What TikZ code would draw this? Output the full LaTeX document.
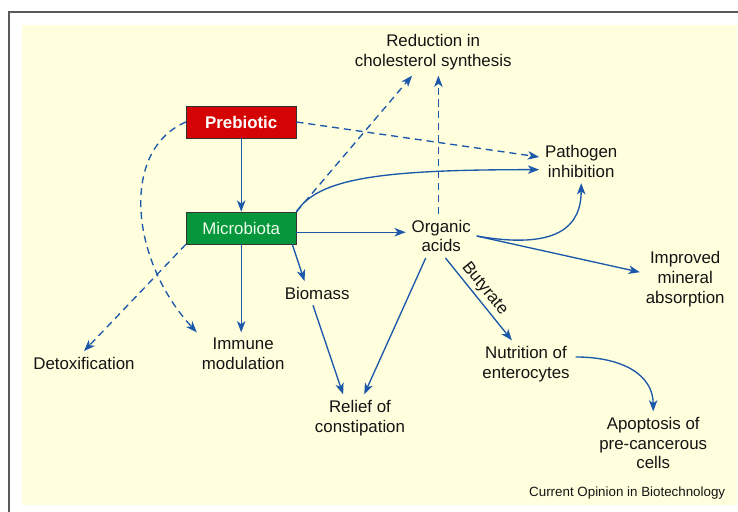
\documentclass[tikz,border=0pt]{standalone}
\usepackage{fontspec}
\setmainfont{Liberation Sans}
\usetikzlibrary{arrows.meta, positioning, calc}
\definecolor{creamfill}{RGB}{255,255,222}
\definecolor{arrowblue}{RGB}{28,88,170}
\definecolor{prebred}{RGB}{212,4,4}
\definecolor{microgreen}{RGB}{6,150,60}
\tikzset{
  redbox/.style={rectangle, minimum width=2.75cm, minimum height=0.8cm, text centered, draw=black!80, fill=prebred, text=white, font=\fontsize{12}{14}\selectfont\bfseries},
  greenbox/.style={rectangle, minimum width=2.75cm, minimum height=0.8cm, text centered, draw=black!80, fill=microgreen, text=green!8!white, font=\fontsize{12}{14}\selectfont},
  effect/.style={align=center, inner sep=4pt, text=black!92, font=\fontsize{12}{14}\selectfont},
  arrow/.style={arrowblue, line width=0.95pt, -{Stealth[length=8pt,width=6pt,inset=2.2pt]}},
  dasharrow/.style={arrow, dash pattern=on 5pt off 3.5pt}
}

\begin{document}
\begin{tikzpicture}

    % 1. Marco y fondo
    \useasboundingbox (0,0) rectangle (18.45,-12.775);
    \draw[black!65, line width=1.5pt] (0.23,-0.31) rectangle (19,-13.2);
    \fill[creamfill] (0.55,-0.62) rectangle (18.43,-12.63);

    % 2. Nodos
    \node[effect] (cholesterol) at (10.83,-1.30) {Reduction in\\cholesterol synthesis};
    \node[redbox] (prebiotic) at (6.03,-3.05) {Prebiotic};
    \node[greenbox] (microbiota) at (6.03,-5.70) {Microbiota};
    \node[effect] (pathogen) at (14.53,-4.03) {Pathogen\\inhibition};
    \node[effect] (organic) at (11.03,-5.90) {Organic\\acids};
    \node[effect] (mineral) at (17.13,-6.98) {Improved\\mineral\\absorption};
    \node[effect] (biomass) at (7.93,-7.33) {Biomass};
    \node[effect] (detox) at (2.10,-9.08) {Detoxification};
    \node[effect] (immune) at (6.08,-8.85) {Immune\\modulation};
    \node[effect] (nutrition) at (13.15,-9.10) {Nutrition of\\enterocytes};
    \node[effect] (relief) at (9.00,-10.45) {Relief of\\constipation};
    \node[effect] (apoptosis) at (16.33,-11.08) {Apoptosis of\\pre-cancerous\\cells};
    \node[text=black!92, font=\fontsize{9.5}{11}\selectfont] (journal) at (15.68,-12.33) {Current Opinion in Biotechnology};

    % 3. Conexiones desde Prebiotic
    \draw[arrow] (prebiotic) -- (microbiota);
    \draw[dasharrow] (prebiotic.east) -- ([yshift=3pt]pathogen.west);
    \draw[dasharrow] (prebiotic.west) .. controls (3.0,-3.75) and (3.25,-6.5) .. (immune.155);

    % 4. Conexiones desde Microbiota
    \draw[dasharrow] (microbiota.south west) -- (detox.north);
    \draw[arrow] (microbiota.south) -- (microbiota.south |- immune.north);
    \draw[arrow] ([xshift=-3pt]microbiota.south east) -- ([xshift=-9pt]biomass.north);
    \draw[arrow] ([yshift=-3pt]microbiota.east) -- ([yshift=-3pt]microbiota.east -| organic.west);
    \draw[arrow] (microbiota.north east) .. controls +(0.55,0.85) and +(-3.9,0) .. ([yshift=-6pt]pathogen.west);
    \draw[dasharrow] (microbiota.north east) -- ([xshift=-15pt]cholesterol.south);

    % 5. Conexiones desde Organic acids
    \draw[dasharrow] ([xshift=-2pt]organic.north) -- ([xshift=-2pt]organic.north |- cholesterol.south);
    \draw[arrow] (organic.east) .. controls +(2.0,-0.35) and +(0,-1.1) .. (pathogen.south);
    \draw[arrow] (organic.east) -- ([yshift=5pt]mineral.west);
    \draw[arrow] ([xshift=3pt]organic.south) -- node[pos=0.46, sloped, above, effect, inner sep=2pt] {Butyrate} ([xshift=-10pt]nutrition.north);
    \draw[arrow] ([xshift=-11pt]organic.south) -- ([xshift=3pt]relief.north);

    % 6. Resto
    \draw[arrow] ([xshift=-3pt]biomass.south) -- ([xshift=-12pt]relief.north);
    \draw[arrow] ([yshift=5pt]nutrition.east) .. controls +(1.2,0) and +(0,0.9) .. (apoptosis.north);

\end{tikzpicture}
\end{document}
